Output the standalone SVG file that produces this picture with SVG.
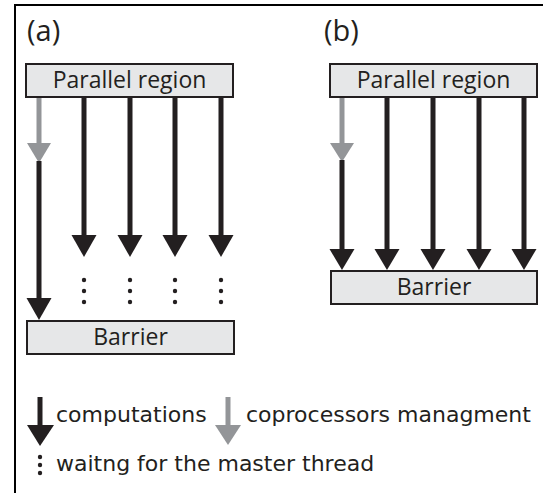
<svg xmlns="http://www.w3.org/2000/svg" width="543" height="493" viewBox="0 0 543 493">
<style>
.box{fill:#e6e7e8;stroke:#231f20;stroke-width:2}
.bt{font-family:"Open Sans","DejaVu Sans",sans-serif;font-size:23px;fill:#231f20;text-anchor:middle}
.lbl{font-family:"Open Sans","DejaVu Sans",sans-serif;font-size:29px;fill:#231f20}
.lg{font-family:"DejaVu Sans",sans-serif;font-size:22px;fill:#231f20}
.k{stroke:#231f20;stroke-width:5;fill:none}
.g{stroke:#939598;stroke-width:5;fill:none}
.kh{fill:#231f20}
.gh{fill:#939598}
.dot{fill:#231f20}
</style>
<rect width="543" height="493" fill="#fff"/>
<path d="M15 4V493M14 5H543" stroke="#000" stroke-width="2" fill="none"/>
<text class="lbl" x="27" y="41">(a)</text>
<text class="lbl" x="324" y="41">(b)</text>
<g id="par-a"><rect class="box" x="26" y="64" width="207" height="33"/><text class="bt" x="129.5" y="88">Parallel region</text></g>
<g id="bar-a"><rect class="box" x="27" y="321" width="207" height="33"/><text class="bt" x="130.5" y="345">Barrier</text></g>
<g id="par-b"><rect class="box" x="330" y="64" width="207" height="33"/><text class="bt" x="433.5" y="88">Parallel region</text></g>
<g id="bar-b"><rect class="box" x="331" y="271" width="206" height="33"/><text class="bt" x="434" y="295">Barrier</text></g>
<g id="connectors">
<path class="g" d="M39 98V146"/><polygon class="gh" points="27,143 51,143 39,163"/>
<path class="k" d="M39 161V301"/><polygon class="kh" points="26.5,298 51.5,298 39,320"/>
<path class="k" d="M84 98V238M130 98V238M175 98V238M221 98V238"/>
<polygon class="kh" points="71.5,235 96.5,235 84,257"/>
<polygon class="kh" points="117.5,235 142.5,235 130,257"/>
<polygon class="kh" points="162.5,235 187.5,235 175,257"/>
<polygon class="kh" points="208.5,235 233.5,235 221,257"/>
<g class="dot">
<circle cx="84" cy="280" r="2.2"/><circle cx="84" cy="291" r="2.2"/><circle cx="84" cy="302" r="2.2"/>
<circle cx="130" cy="280" r="2.2"/><circle cx="130" cy="291" r="2.2"/><circle cx="130" cy="302" r="2.2"/>
<circle cx="175" cy="280" r="2.2"/><circle cx="175" cy="291" r="2.2"/><circle cx="175" cy="302" r="2.2"/>
<circle cx="221" cy="280" r="2.2"/><circle cx="221" cy="291" r="2.2"/><circle cx="221" cy="302" r="2.2"/>
</g>
<path class="g" d="M342 98V146"/><polygon class="gh" points="330,143 354,143 342,162"/>
<path class="k" d="M342 160V253M387 98V253M433 98V253M479 98V253M524 98V253"/>
<polygon class="kh" points="329.5,249 354.5,249 342,270"/>
<polygon class="kh" points="374.5,249 399.5,249 387,270"/>
<polygon class="kh" points="420.5,249 445.5,249 433,270"/>
<polygon class="kh" points="466.5,249 491.5,249 479,270"/>
<polygon class="kh" points="511.5,249 536.5,249 524,270"/>
</g>
<g id="legend">
<path class="k" d="M40 397V428"/><polygon class="kh" points="27,425 54,425 40,446"/>
<text class="lg" x="56" y="422">computations</text>
<path class="g" d="M228 397V428"/><polygon class="gh" points="215,425 241,425 228,445"/>
<text class="lg" x="246" y="422">coprocessors managment</text>
<circle class="dot" cx="40" cy="457" r="2.2"/><circle class="dot" cx="40" cy="465" r="2.2"/><circle class="dot" cx="40" cy="473" r="2.2"/>
<text class="lg" x="56" y="471">waitng for the master thread</text>
</g>
</svg>
